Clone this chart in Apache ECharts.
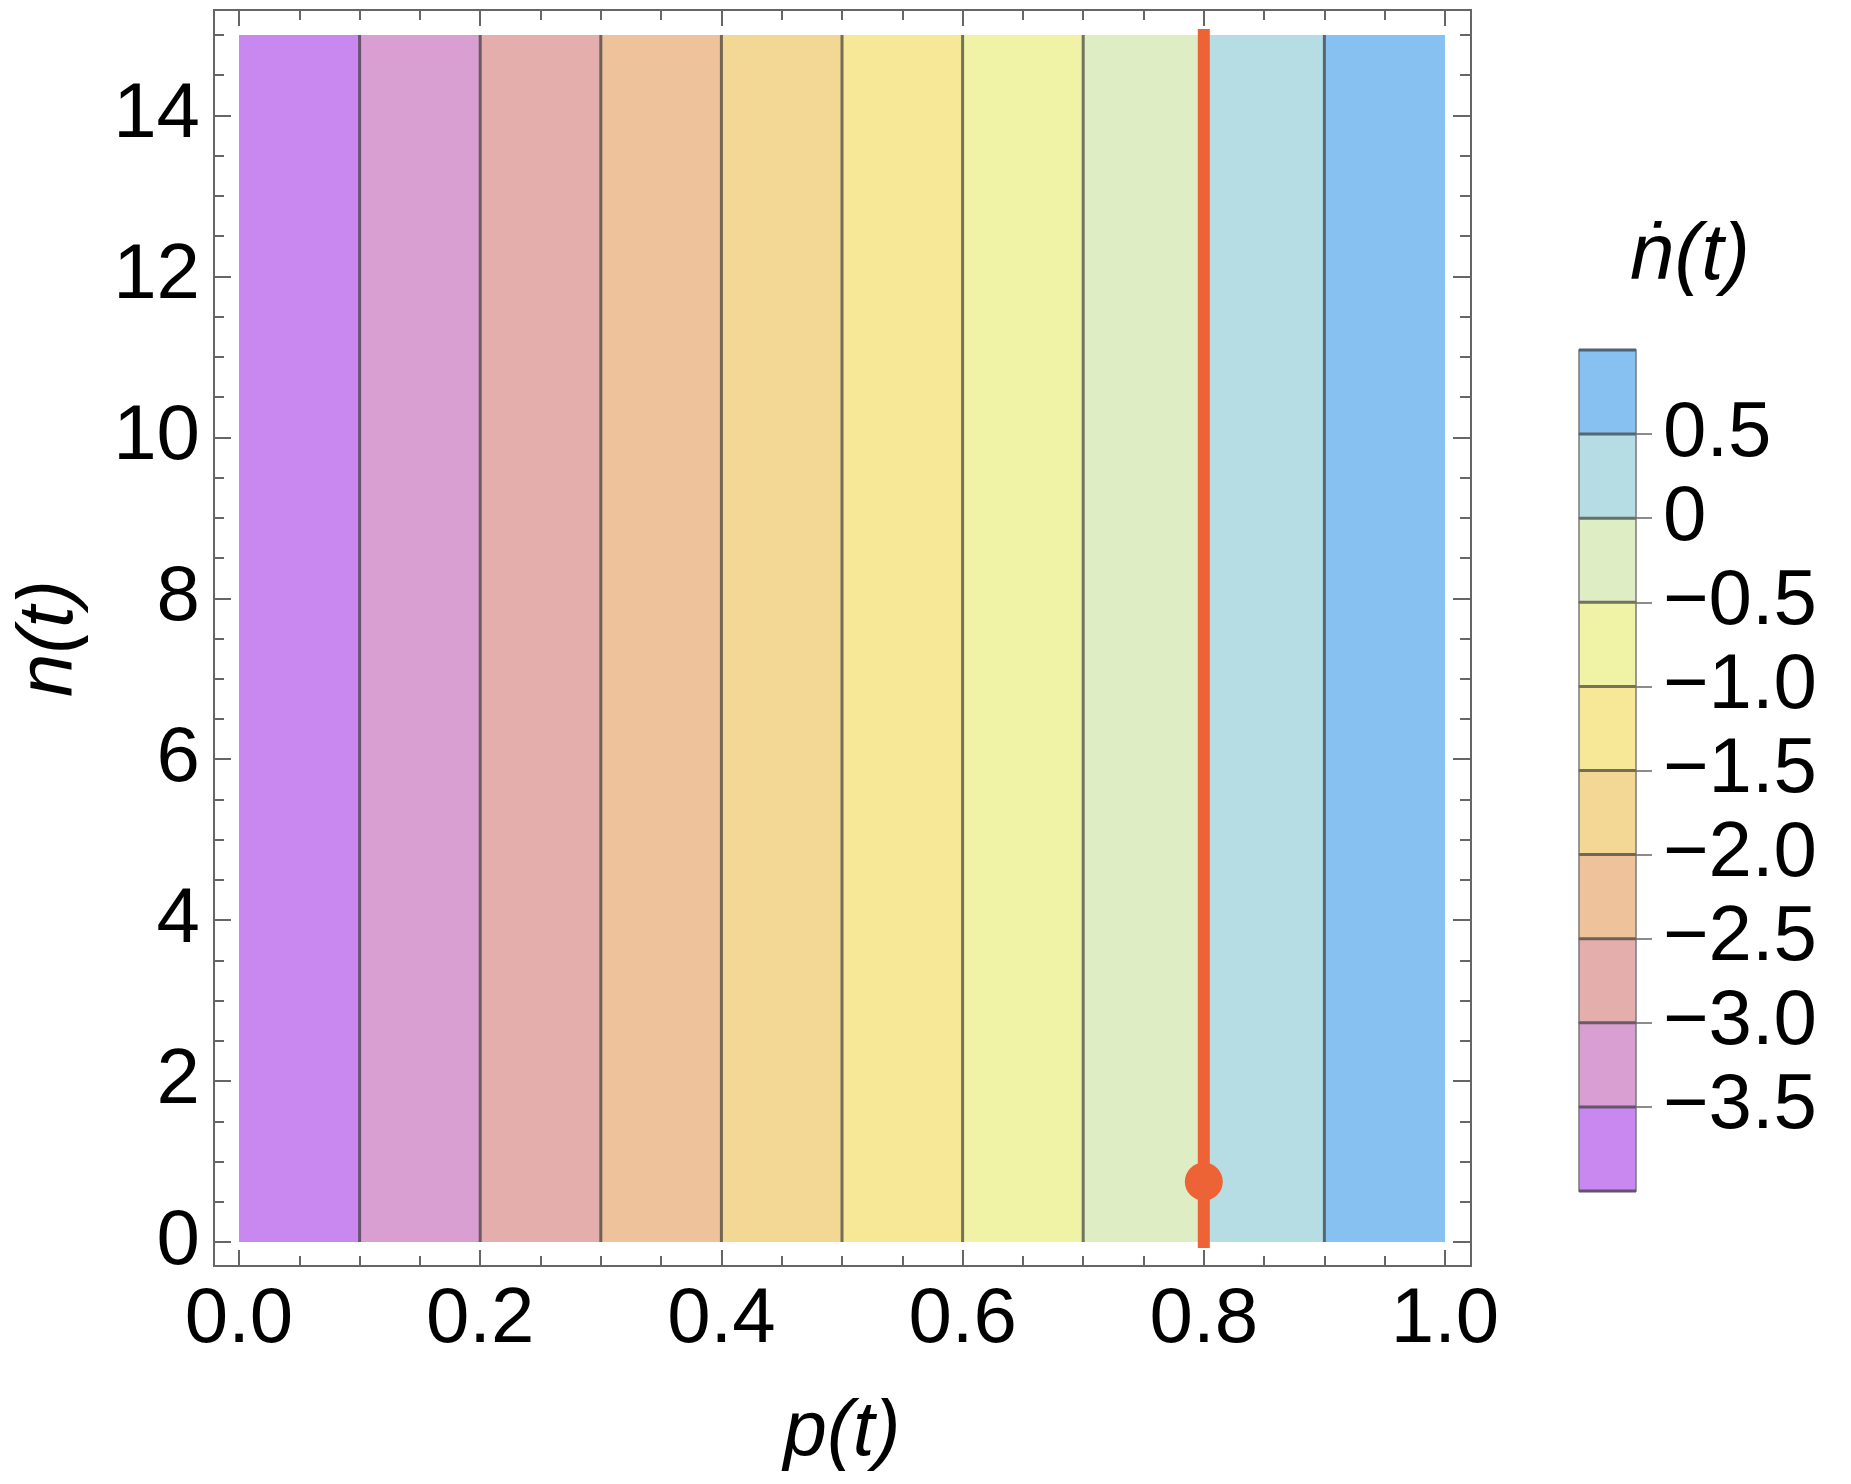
<!DOCTYPE html>
<html>
<head>
<meta charset="utf-8">
<title>n-dot contour</title>
<script src="https://cdn.jsdelivr.net/npm/echarts@6/dist/echarts.min.js"></script>
<style>
html, body { margin: 0; padding: 0; background: #fff; }
#chart { width: 1851px; height: 1484px; }
</style>
</head>
<body>
<div id="chart"></div>
<script>
'use strict';

// p(t) where the contour levels cross
var pBreaks = [0.0, 0.1, 0.2, 0.3, 0.4, 0.5, 0.6, 0.7, 0.8, 0.9, 1.0];
// n-dot value at each of those breaks
var nDotBreaks = [-4.0, -3.5, -3.0, -2.5, -2.0, -1.5, -1.0, -0.5, 0.0, 0.5, 1.0];
var nRange = [0, 15];
var yTicks = [0, 2, 4, 6, 8, 10, 12, 14];
var barTicks = [-3.5, -3.0, -2.5, -2.0, -1.5, -1.0, -0.5, 0, 0.5];
// red nullcline and fixed point
var nullclineP = [0.8, 0.8];
var nullclineN = [0, 15];
var fixedPoint = [0.8, 0.75];

var bandColors = ['#c888f0', '#d99fd3', '#e4aead', '#eec29b', '#f3d795',
                  '#f6e896', '#f0f3a6', '#deedc4', '#b6dce4', '#86c1f1'];
var font = "'Liberation Sans', Arial, sans-serif";
var red = '#ee6336';

function hexRgb(h) {
    return [parseInt(h.substr(1, 2), 16), parseInt(h.substr(3, 2), 16), parseInt(h.substr(5, 2), 16)];
}

//contour line colour: darkened mix of the two neighbouring bands
function edgeColor(i) {
    var a = hexRgb(bandColors[Math.max(i - 1, 0)]);
    var b = hexRgb(bandColors[Math.min(i, bandColors.length - 1)]);
    var c = [0, 1, 2].map(function(k) {
        return Math.round((a[k] + b[k]) / 2 * 0.35 + 48 * 0.65);
    });
    return 'rgb(' + c.join(',') + ')';
}

function barLabel(v) {
    if (v === 0) return '0';
    var s = Math.abs(v).toFixed(1);
    return v < 0 ? '\u2212' + s : s;
}

var stripeData = [];
var bandData = [];
for (var i = 0; i < pBreaks.length - 1; i++) {
    var mid = (nDotBreaks[i] + nDotBreaks[i + 1]) / 2;
    stripeData.push([pBreaks[i], pBreaks[i + 1], mid]);
    bandData.push([nDotBreaks[i], nDotBreaks[i + 1], mid]);
}
var contourData = pBreaks.slice(1, -1).map(function(p, k) { return [p, k + 1]; });
var edgeData = nDotBreaks.map(function(v, k) { return [v, k]; });

var pieces = bandColors.map(function(c, k) {
    return { gte: nDotBreaks[k], lt: nDotBreaks[k + 1], color: c };
});

var tickStyle = { color: '#666', width: 2 };
var labelStyle = { fontFamily: font, fontSize: 78, color: '#000' };
var nameStyle = { fontFamily: font, fontSize: 78, color: '#000', fontStyle: 'italic' };
var noLine = { show: false, onZero: false };

function frameX(grid, pos, offset, labels) {
    return {
        gridIndex: grid, type: 'value', min: 0, max: 1, interval: 0.2,
        position: pos, offset: offset,
        axisLine: noLine,
        axisTick: { inside: true, length: 16, lineStyle: tickStyle },
        minorTick: { show: true, splitNumber: 4, length: 10, lineStyle: tickStyle },
        splitLine: { show: false },
        axisLabel: Object.assign({ show: labels, margin: 15, formatter: function(v) { return v.toFixed(1); } }, labelStyle)
    };
}

function frameYMajor(pos, labels) {
    return {
        gridIndex: 1, type: 'value', min: nRange[0], max: nRange[1], interval: 2,
        position: pos, offset: 25,
        axisLine: noLine,
        axisTick: { inside: true, length: 17, lineStyle: tickStyle, customValues: yTicks },
        splitLine: { show: false },
        axisLabel: Object.assign({ show: labels, margin: 14, customValues: yTicks }, labelStyle)
    };
}

//小刻度放在重叠的第二个网格上
function frameYMinor(pos) {
    return {
        gridIndex: 3, type: 'value', min: nRange[0], max: nRange[1], interval: 0.5,
        position: pos, offset: 25,
        axisLine: noLine,
        axisTick: { inside: true, length: 10, lineStyle: tickStyle },
        splitLine: { show: false },
        axisLabel: { show: false }
    };
}

var xBottom = frameX(1, 'bottom', 24, true);
xBottom.name = 'p(t)';
xBottom.nameLocation = 'middle';
xBottom.nameGap = 128;
xBottom.nameTextStyle = nameStyle;

var yLeft = frameYMajor('left', true);
yLeft.name = 'n(t)';
yLeft.nameLocation = 'middle';
yLeft.nameRotate = 90;
yLeft.nameGap = 125;
yLeft.nameTextStyle = nameStyle;

var dataRect = { left: 239, top: 35, width: 1206, height: 1207, outerBoundsMode: 'none', containLabel: false };

var option = {
    animation: false,
    backgroundColor: '#fff',
    grid: [
        { left: 214, top: 10, width: 1257, height: 1256, show: true, borderColor: '#666', borderWidth: 2,
          backgroundColor: 'transparent', outerBoundsMode: 'none', containLabel: false },
        dataRect,
        { left: 1579, top: 350, width: 57, height: 841, outerBoundsMode: 'none', containLabel: false },
        Object.assign({}, dataRect)
    ],
    xAxis: [
        { gridIndex: 0, type: 'value', min: 0, max: 1, show: false },
        xBottom,
        frameX(1, 'top', 25, false),
        { gridIndex: 2, type: 'value', min: 0, max: 1, show: false },
        { gridIndex: 3, type: 'value', min: 0, max: 1, show: false }
    ],
    yAxis: [
        { gridIndex: 0, type: 'value', min: 0, max: 1, show: false },
        yLeft,
        frameYMajor('right', false),
        {
            gridIndex: 2, type: 'value', min: nDotBreaks[0], max: nDotBreaks[nDotBreaks.length - 1],
            position: 'right',
            axisLine: noLine,
            axisTick: { length: 16, lineStyle: { color: '#666', width: 1.5 }, customValues: barTicks },
            splitLine: { show: false },
            axisLabel: Object.assign({ margin: 27, customValues: barTicks, formatter: barLabel }, labelStyle)
        },
        frameYMinor('left'),
        frameYMinor('right')
    ],
    visualMap: {
        type: 'piecewise', show: false, dimension: 2, seriesIndex: [0, 2], pieces: pieces
    },
    graphic: [{
        type: 'text', x: 1690, y: 257,
        style: { text: '\u1e45(t)', fontFamily: font, fontSize: 80, fontStyle: 'italic', fill: '#000', align: 'center', verticalAlign: 'middle' }
    }],
    series: [
        {
            //等值带
            type: 'custom', xAxisIndex: 1, yAxisIndex: 1, data: stripeData, z: 1,
            renderItem: function(params, api) {
                var a = api.coord([api.value(0), nRange[1]]);
                var b = api.coord([api.value(1), nRange[0]]);
                return {
                    type: 'rect',
                    shape: { x: a[0], y: a[1], width: b[0] - a[0], height: b[1] - a[1] },
                    style: { fill: api.visual('color') }
                };
            }
        },
        {
            //等值线
            type: 'custom', xAxisIndex: 1, yAxisIndex: 1, data: contourData, z: 2,
            renderItem: function(params, api) {
                var a = api.coord([api.value(0), nRange[1]]);
                var b = api.coord([api.value(0), nRange[0]]);
                return {
                    type: 'line',
                    shape: { x1: a[0], y1: a[1], x2: b[0], y2: b[1] },
                    style: { stroke: edgeColor(api.value(1)), lineWidth: 3 }
                };
            }
        },
        {
            //色条
            type: 'custom', xAxisIndex: 3, yAxisIndex: 3, data: bandData, z: 1,
            renderItem: function(params, api) {
                var a = api.coord([0, api.value(1)]);
                var b = api.coord([1, api.value(0)]);
                return {
                    type: 'rect',
                    shape: { x: a[0], y: a[1], width: b[0] - a[0], height: b[1] - a[1] },
                    style: { fill: api.visual('color'), stroke: '#7a7a7a', lineWidth: 1.5 }
                };
            }
        },
        {
            type: 'custom', xAxisIndex: 3, yAxisIndex: 3, data: edgeData, z: 2,
            renderItem: function(params, api) {
                var a = api.coord([0, api.value(0)]);
                var b = api.coord([1, api.value(0)]);
                return {
                    type: 'line',
                    shape: { x1: a[0], y1: a[1], x2: b[0], y2: b[1] },
                    style: { stroke: edgeColor(api.value(1)), lineWidth: 3 }
                };
            }
        },
        {
            type: 'line', xAxisIndex: 1, yAxisIndex: 1, z: 5, clip: false,
            data: nullclineP.map(function(p, k) { return [p, nullclineN[k]]; }),
            symbol: 'none', silent: true,
            lineStyle: { color: red, width: 12, cap: 'square' }
        },
        {
            type: 'scatter', xAxisIndex: 1, yAxisIndex: 1, z: 6, clip: false,
            data: [fixedPoint], symbolSize: 38,
            itemStyle: { color: red, opacity: 1 }
        }
    ]
};

var chart = echarts.init(document.getElementById('chart'));
chart.setOption(option);
</script>
</body>
</html>
